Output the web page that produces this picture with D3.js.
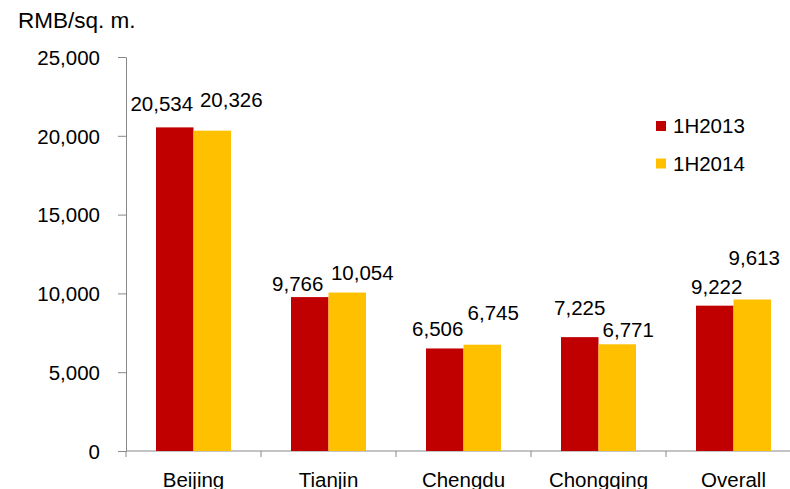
<!DOCTYPE html>
<html>
<head>
<meta charset="utf-8">
<script src="https://d3js.org/d3.v7.min.js"></script>
<style>
  body { margin: 0; background: #fff; }
  svg { display: block; font-family: "Liberation Sans", Arial, sans-serif; }
  .axis path, .axis line { stroke: #888; }
  .axis text { fill: #000; font-size: 20.5px; font-family: "Liberation Sans", Arial, sans-serif; }
</style>
</head>
<body>
<svg width="790" height="489"></svg>
<script>
// chart data
var categories = ["Beijing", "Tianjin", "Chengdu", "Chongqing", "Overall"];
var seriesNames = ["1H2013", "1H2014"];
var values2013 = [20534, 9766, 6506, 7225, 9222];
var values2014 = [20326, 10054, 6745, 6771, 9613];
var yTicks = [0, 5000, 10000, 15000, 20000, 25000];
var unitLabel = "RMB/sq. m.";

var colors = ["#C00000", "#FFC000"];
// labels were hand placed in the original, nudge them off the bar centre (px)
var nudge2013 = [[-13, -16], [-12, -6], [-7, -12], [0, -22], [2, -12]];
var nudge2014 = [[19, -24], [15, -13], [11, -25], [11, -7], [2, -34]];

var svg = d3.select("svg");
// careful: "top" is taken by window.top
var plotLeft = 126, plotRight = 801, plotTop = 57, plotBottom = 451;

var x = d3.scaleBand().domain(categories).range([plotLeft, plotRight]).padding(0);
var xs = d3.scaleBand().domain(seriesNames).range([30, 105]).padding(0);
var y = d3.scaleLinear().domain([0, 25000]).range([plotBottom, plotTop]);

// y axis
svg.append("g")
  .attr("class", "axis")
  .attr("transform", "translate(" + plotLeft + ",0)")
  .call(d3.axisLeft(y).tickValues(yTicks).tickSize(8).tickSizeOuter(0)
    .tickPadding(18).tickFormat(d3.format(",")))
  .selectAll("text").attr("dy", "0.36em");

// x axis line + boundary ticks
var xg = svg.append("g").attr("class", "axis");
xg.append("line")
  .attr("x1", plotLeft).attr("x2", 790)
  .attr("y1", plotBottom).attr("y2", plotBottom);
xg.selectAll(".bt")
  .data(categories)
  .enter().append("line")
  .attr("class", "bt")
  .attr("x1", function(d) { return x(d); })
  .attr("x2", function(d) { return x(d); })
  .attr("y1", plotBottom).attr("y2", plotBottom + 6);
xg.selectAll(".cat")
  .data(categories)
  .enter().append("text")
  .attr("class", "cat")
  .attr("x", function(d) { return x(d) + x.bandwidth() / 2; })
  .attr("y", 487)
  .attr("text-anchor", "middle")
  .text(function(d) { return d; });

var rows = [];
categories.forEach(function(c, i) {
  rows.push({cat: c, s: seriesNames[0], v: values2013[i], n: nudge2013[i], col: colors[0]});
  rows.push({cat: c, s: seriesNames[1], v: values2014[i], n: nudge2014[i], col: colors[1]});
});

svg.append("g").selectAll("rect")
  .data(rows)
  .enter().append("rect")
  .attr("x", function(d) { return x(d.cat) + xs(d.s); })
  .attr("width", xs.bandwidth())
  .attr("y", function(d) { return y(d.v); })
  .attr("height", function(d) { return plotBottom - y(d.v); })
  .attr("fill", function(d) { return d.col; });

svg.append("g").selectAll("text")
  .data(rows)
  .enter().append("text")
  .attr("x", function(d) { return x(d.cat) + xs(d.s) + xs.bandwidth() / 2 + d.n[0]; })
  .attr("y", function(d) { return y(d.v) + d.n[1]; })
  .attr("text-anchor", "middle")
  .style("font-size", "20.5px")
  .text(function(d) { return d3.format(",")(d.v); });

// unit title
svg.append("text")
  .attr("x", 18).attr("y", 28)
  .style("font-size", "22.5px")
  .text(unitLabel);

// legend
var lg = svg.append("g").selectAll("g")
  .data(seriesNames)
  .enter().append("g")
  .attr("transform", function(d, i) { return "translate(656," + (121 + i * 37.5) + ")"; });
lg.append("rect")
  .attr("width", 10).attr("height", 10)
  .attr("fill", function(d, i) { return colors[i]; });
lg.append("text")
  .attr("x", 17).attr("y", 12)
  .style("font-size", "20.5px")
  .text(function(d) { return d; });
</script>
</body>
</html>
